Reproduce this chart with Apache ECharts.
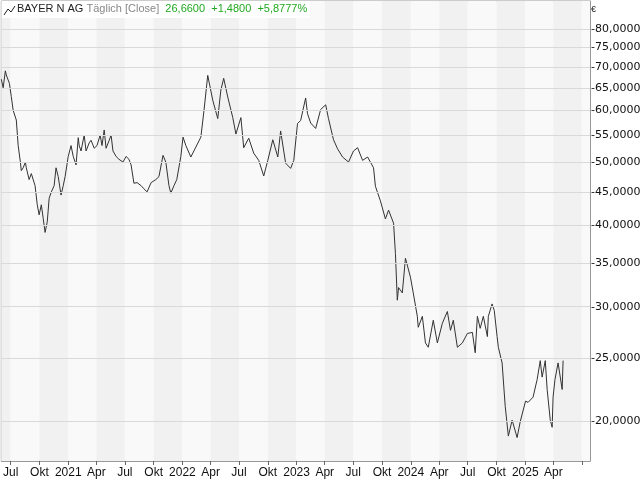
<!DOCTYPE html>
<html><head><meta charset="utf-8">
<script src="https://cdn.jsdelivr.net/npm/echarts@6/dist/echarts.min.js"></script>
<style>html,body{margin:0;padding:0;background:#fff}#c{width:640px;height:480px}</style>
</head><body><div id="c"></div>
<script>
const dates = ["2020-06-01","2020-06-07","2020-06-14","2020-06-17","2020-06-27","2020-07-03","2020-07-09","2020-07-19","2020-07-25","2020-08-01","2020-08-04","2020-08-10","2020-08-17","2020-08-20","2020-08-29","2020-09-05","2020-09-17","2020-09-24","2020-09-30","2020-10-07","2020-10-13","2020-10-19","2020-10-26","2020-11-01","2020-11-08","2020-11-17","2020-11-23","2020-11-30","2020-12-09","2020-12-16","2020-12-22",
"2021-01-01","2021-01-10","2021-01-17","2021-01-26","2021-02-02","2021-02-05","2021-02-11","2021-02-21","2021-02-27","2021-03-09","2021-03-15","2021-03-25","2021-04-03","2021-04-13","2021-04-19","2021-04-26","2021-05-02","2021-05-12","2021-05-18","2021-05-24","2021-06-03","2021-06-12","2021-06-25","2021-07-05","2021-07-14","2021-07-21","2021-07-30","2021-08-09","2021-08-22","2021-08-31","2021-09-10","2021-09-23","2021-10-08","2021-10-18","2021-10-31","2021-11-09","2021-11-19","2021-11-25","2021-12-05","2021-12-14","2021-12-27",
"2022-01-03","2022-01-12","2022-01-28","2022-03-01","2022-03-11","2022-03-23","2022-04-08","2022-04-24","2022-05-04","2022-05-13","2022-05-26","2022-06-11","2022-06-21","2022-07-07","2022-07-16","2022-08-01","2022-08-17","2022-09-02","2022-09-18","2022-10-01","2022-10-17","2022-11-02","2022-11-11","2022-11-27","2022-12-13","2022-12-23",
"2023-01-04","2023-01-14","2023-01-30","2023-02-05","2023-02-15","2023-03-03","2023-03-19","2023-04-04","2023-04-13","2023-04-29","2023-05-12","2023-05-28","2023-06-16","2023-07-02","2023-07-15","2023-07-31","2023-08-16","2023-09-04","2023-09-10","2023-09-26","2023-10-12","2023-10-22","2023-11-07","2023-11-13","2023-11-19","2023-11-23","2023-12-05","2023-12-15","2023-12-31",
"2024-01-09","2024-01-22","2024-01-25","2024-02-07","2024-02-17","2024-02-26","2024-03-13","2024-03-26","2024-04-11","2024-04-27","2024-05-07","2024-05-16","2024-05-29","2024-06-14","2024-06-30","2024-07-16","2024-07-25","2024-08-01","2024-08-10","2024-08-20","2024-09-02","2024-09-05","2024-09-17","2024-09-24","2024-10-03","2024-10-07","2024-10-19","2024-10-29","2024-11-08","2024-11-20","2024-12-06","2024-12-16",
"2025-01-02","2025-01-10","2025-01-26","2025-02-08","2025-02-18","2025-02-24","2025-03-06","2025-03-12","2025-03-22","2025-03-28","2025-03-31","2025-04-06","2025-04-16","2025-04-29","2025-05-02","2025-05-15"];
const closes = [67,65,69,68,66,63,60,58,53,50,48.5,49,50,49,47,48,46,43,41.5,43,41,39,40.5,44,45,46,49,47.5,44.5,46,47.5,
51,53,51,49.5,54.5,53,52,55,52,53.5,54,52.5,53,55,53,56,52.5,54,55,52,51,50.5,50,51,50.5,49.5,46.4,46.5,46,45.5,45,46.5,47,47.5,51.2,50,46,44.8,46,47,51,
54.6,53,50.9,54.6,60,67.9,62.2,58.3,64.5,67.2,62.9,58.5,55.2,58.5,52.6,54.4,51.6,50.3,47.6,50.3,54.1,50.9,55.8,49.8,48.9,
50.3,57.3,57.9,62.7,59.3,57.4,56.3,60.2,61.2,58.3,54.1,52.4,50.9,50,52,52.6,50.3,50.9,49,45.9,43.6,40.9,42.2,40.3,36.2,30.7,32.1,31.5,35.6,
33.3,31.5,29,27.9,29,26.4,26,28.6,26.4,28.3,29.5,27.6,28.6,26,26.4,27.3,27.4,25.5,29,27.8,29,27,29,30.3,29.6,27,26,24.6,21.1,19,20.1,18.9,
20,21.5,21.4,21.8,23.2,24.8,23.4,24.8,22.4,20.1,19.6,21.8,23.2,24.6,22.4,24.8];
const priceTicks = [20,25,30,35,40,45,50,55,60,65,70,75,80];
const monthNames = ["","","","Apr","","","Jul","","","Okt","",""];
const lastLabelDate = "2025-04-30";

const bands = [];
let d = new Date(Date.UTC(2020,3,1)), i = 0;
while (d < new Date(Date.UTC(2025,9,1))) {
  const n = new Date(Date.UTC(d.getUTCFullYear(), d.getUTCMonth()+3, 1));
  bands.push([{xAxis:d.getTime(), itemStyle:{color: i%2 ? '#f9f9f9' : '#f1f1f1'}},{xAxis:n.getTime()}]);
  d = n; i++;
}
const fmt = v => v.toFixed(4).replace('.', ',');
const chart = echarts.init(document.getElementById('c'));
chart.setOption({
  animation:false,
  grid:{left:1,right:50,top:1,bottom:19,show:true,borderColor:'#999',borderWidth:1,backgroundColor:'transparent'},
  xAxis:{type:'time',min:'2020-06-01',max:'2025-07-27',
    minInterval:86400000*89,maxInterval:86400000*92,
    splitLine:{show:false},axisLine:{lineStyle:{color:'#999'}},
    axisTick:{show:true,length:4,lineStyle:{color:'#666'}},
    axisLabel:{color:'#111',fontSize:12,fontFamily:'Liberation Sans',margin:6,
      formatter:v=>{const t=new Date(v);if(t>new Date(lastLabelDate))return '';const m=t.getMonth();return m===0?String(t.getFullYear()):monthNames[m];}}},
  yAxis:{type:'log',position:'right',min:17.4,max:88.3,axisLabel:{show:false},splitLine:{show:false},
    axisTick:{show:false},axisLine:{show:true,lineStyle:{color:'#999'}}},
  series:[{type:'line',data:dates.map((t,k)=>[t,closes[k]]),showSymbol:false,
    lineStyle:{color:'#333',width:1},
    markArea:{silent:true,data:bands},
    markLine:{silent:true,symbol:'none',animation:false,
      lineStyle:{color:'#d9d9d9',type:'solid',width:1},
      label:{position:'end',distance:1,color:'#111',fontSize:11,fontFamily:'DejaVu Sans',formatter:p=>'-'+fmt(p.value)},
      data:priceTicks.map(v=>({yAxis:v}))}
  }]
});
chart.setOption({graphic:[
    {type:'rect',z:200,shape:{x:2,y:1,width:308,height:17},style:{fill:'#fff'}},
    {type:'polyline',z:201,shape:{points:[[4,15],[8,9],[11,12],[15,6]]},style:{stroke:'#222',lineWidth:1,fill:null}},
    {type:'text',z:201,x:17,y:3,style:{rich:{a:{fill:'#222'},b:{fill:'#888'},g:{fill:'#22a922'}},
      text:'{a|BAYER N AG} {b|Täglich [Close]}  {g|26,6600}  {g|+1,4800}  {g|+5,8777%}',font:'11px Liberation Sans'}},
    {type:'text',z:201,x:591,y:5,style:{text:'€',font:'9px Liberation Sans',fill:'#222'}}
]});
</script></body></html>
